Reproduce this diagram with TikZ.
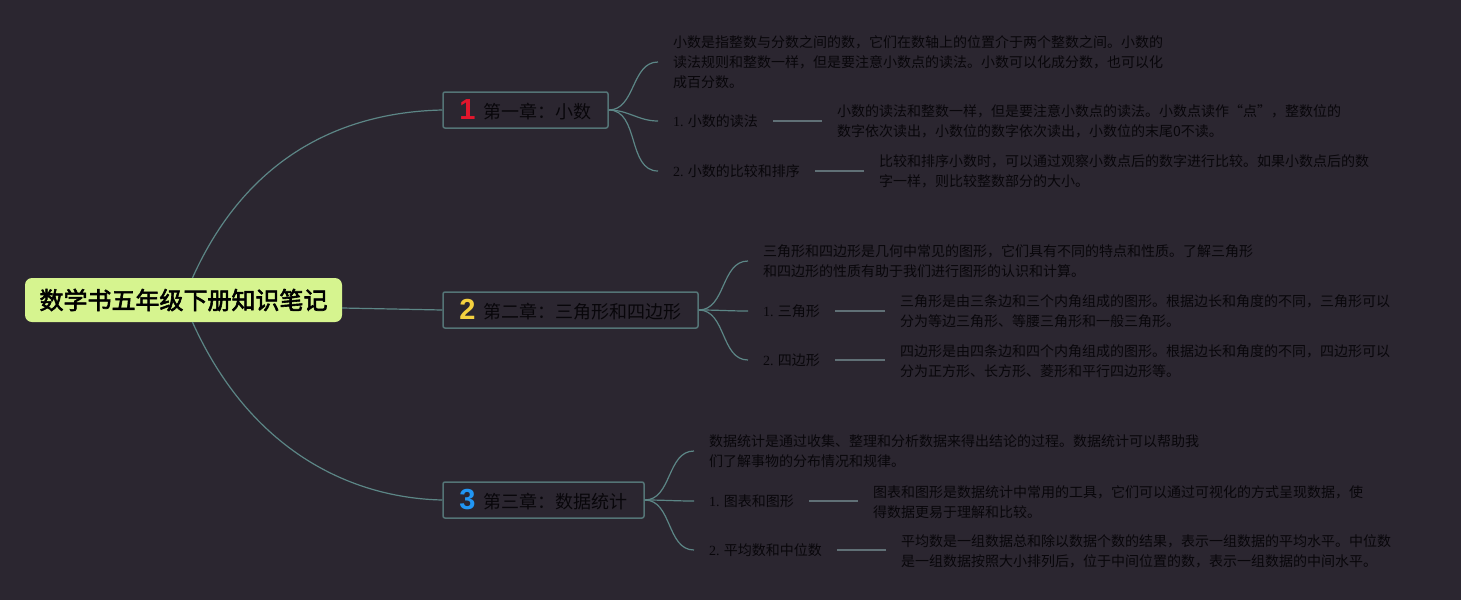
\documentclass[tikz,border=0pt]{standalone}
\usepackage{fontspec}
\setmainfont{Noto Sans CJK SC}[AutoFakeBold=2.5]
\newfontfamily\numfont{Liberation Sans}
\newfontfamily\serf{Liberation Serif}
\definecolor{bg}{RGB}{43,38,48}
\definecolor{rootfill}{RGB}{214,244,143}
\definecolor{boxline}{RGB}{84,116,118}
\definecolor{linecol}{RGB}{92,134,134}
\definecolor{leadcol}{RGB}{96,112,118}
\definecolor{txt}{RGB}{8,6,10}
\definecolor{numred}{RGB}{226,22,44}
\definecolor{numyellow}{RGB}{244,208,63}
\definecolor{numblue}{RGB}{33,150,243}
\newcommand{\chnum}[2]{{\numfont\bfseries\fontsize{29pt}{29pt}\selectfont\color{#1}\raisebox{-1pt}{#2}}\hspace{8pt}}
\newcommand{\lnum}[1]{{\serf #1}}
\begin{document}
\begin{tikzpicture}[x=1pt,y=-1pt,
  rootbox/.style={rounded corners=7pt, fill=rootfill, minimum width=317pt, minimum height=44pt, inner sep=0pt, text=black, font=\fontsize{24pt}{28pt}\selectfont\bfseries},
  chapbox/.style={draw=boxline, line width=1.5pt, rounded corners=2pt, minimum height=36pt, inner sep=0pt, text=txt, font=\fontsize{18pt}{21pt}\selectfont},
  note/.style={anchor=west, inner xsep=15pt, inner ysep=0pt, align=left, text=txt, font=\fontsize{14pt}{20pt}\selectfont},
  branch/.style={draw=linecol, line width=1.2pt},
  leader/.style={draw=leadcol, line width=2pt}]
\fill[bg] (0,0) rectangle (1461,600);
\useasboundingbox (0,0) rectangle (1461,600);

% root and chapters
\node[rootbox] (root) at (183.5,300) {数学书五年级下册知识笔记};
\node[chapbox, minimum width=165pt] (c1) at (525.5,110) {\chnum{numred}{1}第一章：小数};
\node[chapbox, minimum width=255pt] (c2) at (570.5,310) {\chnum{numyellow}{2}第二章：三角形和四边形};
\node[chapbox, minimum width=201pt] (c3) at (543.5,500) {\chnum{numblue}{3}第三章：数据统计};

% chapter 1
\node[note] (d1) at (658,62) {小数是指整数与分数之间的数，它们在数轴上的位置介于两个整数之间。小数的\\读法规则和整数一样，但是要注意小数点的读法。小数可以化成分数，也可以化\\成百分数。};
\node[note] (l11) at (658,121) {\lnum{1.} 小数的读法};
\node[note] (t11) at (822,121) {小数的读法和整数一样，但是要注意小数点的读法。小数点读作“点”，整数位的\\数字依次读出，小数位的数字依次读出，小数位的末尾0不读。};
\node[note] (l12) at (658,171) {\lnum{2.} 小数的比较和排序};
\node[note] (t12) at (864,171) {比较和排序小数时，可以通过观察小数点后的数字进行比较。如果小数点后的数\\字一样，则比较整数部分的大小。};

% chapter 2
\node[note] (d2) at (748,261) {三角形和四边形是几何中常见的图形，它们具有不同的特点和性质。了解三角形\\和四边形的性质有助于我们进行图形的认识和计算。};
\node[note] (l21) at (748,311) {\lnum{1.} 三角形};
\node[note] (t21) at (885,311) {三角形是由三条边和三个内角组成的图形。根据边长和角度的不同，三角形可以\\分为等边三角形、等腰三角形和一般三角形。};
\node[note] (l22) at (748,360) {\lnum{2.} 四边形};
\node[note] (t22) at (885,361) {四边形是由四条边和四个内角组成的图形。根据边长和角度的不同，四边形可以\\分为正方形、长方形、菱形和平行四边形等。};

% chapter 3
\node[note] (d3) at (694,451) {数据统计是通过收集、整理和分析数据来得出结论的过程。数据统计可以帮助我\\们了解事物的分布情况和规律。};
\node[note] (l31) at (694,501) {\lnum{1.} 图表和图形};
\node[note] (t31) at (858,502) {图表和图形是数据统计中常用的工具，它们可以通过可视化的方式呈现数据，使\\得数据更易于理解和比较。};
\node[note] (l32) at (694,550) {\lnum{2.} 平均数和中位数};
\node[note] (t32) at (886,551) {平均数是一组数据总和除以数据个数的结果，表示一组数据的平均水平。中位数\\是一组数据按照大小排列后，位于中间位置的数，表示一组数据的中间水平。};

% root connectors
\draw[branch] ([xshift=9pt]root.north) .. controls (250,150) and (350,112) .. (c1.west);
\draw[branch] ([yshift=-8pt]root.east) -- (c2.west);
\draw[branch] ([xshift=9pt]root.south) .. controls (250,450) and (350,498) .. (c3.west);

% chapter branches
\foreach \c/\a/\b/\d in {c1/d1/l11/l12, c2/d2/l21/l22, c3/d3/l31/l32}{
  \draw[branch] (\c.east) to[out=0,in=180] (\a.west);
  \draw[branch] (\c.east) to[out=0,in=180] (\b.west);
  \draw[branch] (\c.east) to[out=0,in=180] (\d.west);
}

% leaders
\draw[leader] (l11.east) -- (l11.east -| t11.west);
\draw[leader] (l12.east) -- (l12.east -| t12.west);
\draw[leader] (l21.east) -- (l21.east -| t21.west);
\draw[leader] (l22.east) -- (l22.east -| t22.west);
\draw[leader] (l31.east) -- (l31.east -| t31.west);
\draw[leader] (l32.east) -- (l32.east -| t32.west);
\end{tikzpicture}
\end{document}
